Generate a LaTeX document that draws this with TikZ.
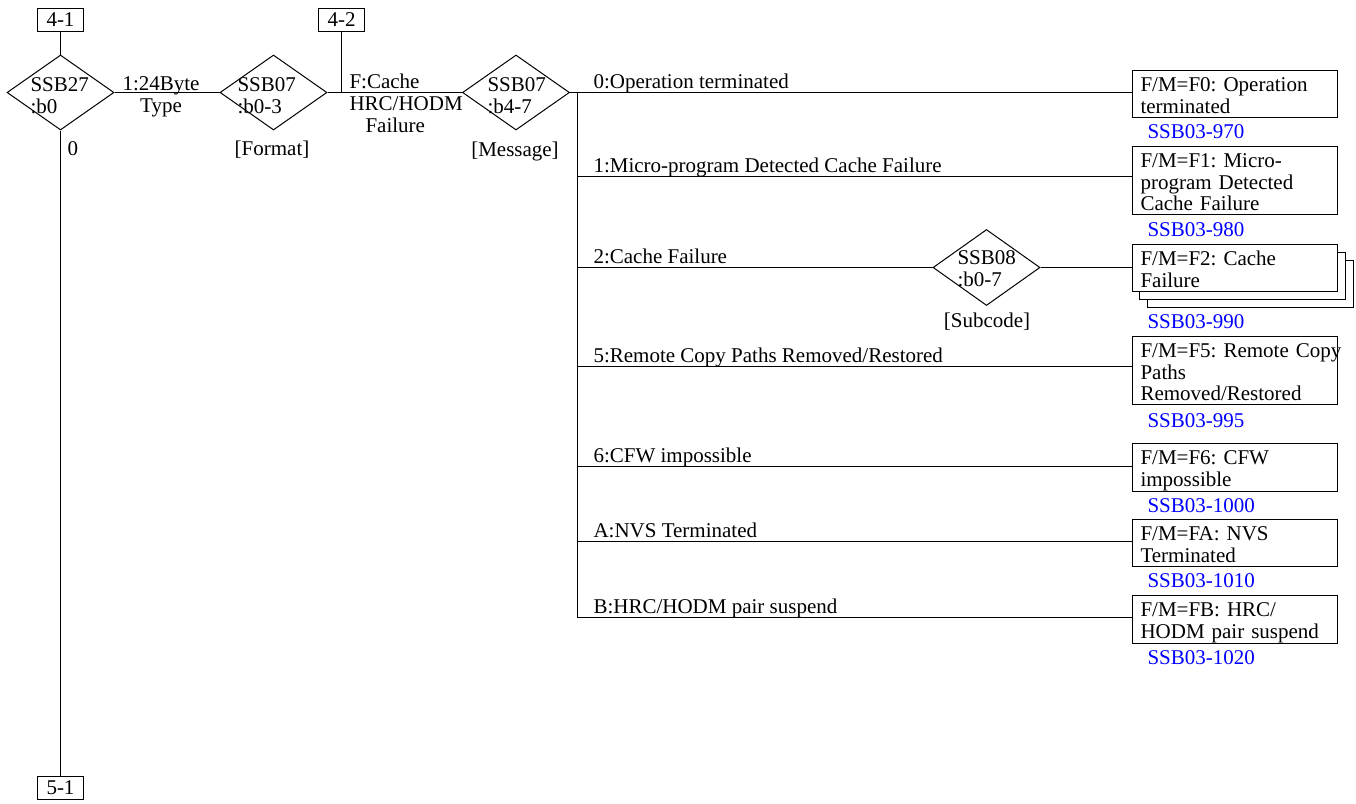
\documentclass[tikz,border=0pt]{standalone}
\usepackage{fontspec}
\setmainfont{Liberation Serif}
\usetikzlibrary{shapes.geometric,backgrounds,calc}
\definecolor{refblue}{RGB}{0,0,255}
\newcommand\fmtopstrut{\rule{0pt}{20pt}}
\newcommand\fmbotstrut{\rule[-3pt]{0pt}{3pt}}
\newcommand\dtopstrut{\rule{0pt}{15pt}}
\begin{document}
\begin{tikzpicture}[x=1pt,y=-1pt,
  every node/.style={font=\fontsize{21}{21.5}\selectfont\frenchspacing},
  line width=1pt,
  refbox/.style={draw,minimum width=46pt,minimum height=23pt,inner sep=0pt},
  dia/.style={draw,diamond,minimum width=107pt,minimum height=75pt,inner sep=0pt},
  dtext/.style={align=left,anchor=north west,inner sep=0pt},
  ctext/.style={align=center,anchor=north,inner sep=0pt},
  blabel/.style={anchor=base west,inner sep=0pt},
  clabel/.style={anchor=base,inner sep=0pt},
  fm/.style={draw,fill=white,anchor=north west,text width=189pt,inner xsep=8pt,inner ysep=1pt,align=left},
  code/.style={anchor=base west,inner sep=0pt,text=refblue},
]
\useasboundingbox (0,0) rectangle (1356,803);

% reference boxes
\node[refbox] (b41) at (60.5,20) {4-1};
\node[refbox] (b42) at (341.5,20) {4-2};
\node[refbox] (b51) at (60.5,787.5) {5-1};

% diamonds
\node[dia] (d1) at (60.5,92.5) {};
\node[dia] (d2) at (273.5,92.5) {};
\node[dia] (d3) at (516,92.5) {};
\node[dia,minimum height=76pt] (d4) at (986.5,267.5) {};
\node[dtext] (d1t) at (30,76) {\dtopstrut SSB27\\:b0};
\node[dtext] (d2t) at (237,76) {\dtopstrut SSB07\\:b0-3};
\node[dtext] (d3t) at (487,76) {\dtopstrut SSB07\\:b4-7};
\node[dtext] (d4t) at (957,249) {\dtopstrut SSB08\\:b0-7};

% diamond captions
\node[clabel] (fmt) at (272,155) {[Format]};
\node[clabel] (msg) at (515,156) {[Message]};
\node[clabel] (sub) at (987,327) {[Subcode]};

% edge labels
\node[ctext] (e1) at (161,75) {\dtopstrut 1:24Byte\\Type};
\node[dtext,font=\fontsize{21}{22}\selectfont] (e2) at (349,73) {\dtopstrut F:Cache\\HRC/HODM\\\hspace*{16pt}Failure};
\node[blabel] (e0) at (67,155) {0};

% result boxes
\node[fm] (f0) at (1132,70) {\fmtopstrut F/M=F0: Operation\\terminated\fmbotstrut};
\node[fm] (f1) at (1132,146) {\fmtopstrut F/M=F1: Micro-\\program Detected\\Cache Failure\fmbotstrut};
\node[fm] (f2) at (1132,244) {\fmtopstrut F/M=F2: Cache\\Failure\fmbotstrut};
\node[fm] (f5) at (1132,336) {\fmtopstrut \mbox{F/M=F5: Remote Copy}\\Paths\\Removed/Restored\fmbotstrut};
\node[fm] (f6) at (1132,443) {\fmtopstrut F/M=F6: CFW\\impossible\fmbotstrut};
\node[fm] (fa) at (1132,519) {\fmtopstrut F/M=FA: NVS\\Terminated\fmbotstrut};
\node[fm] (fb) at (1132,595) {\fmtopstrut F/M=FB: HRC/\\HODM pair suspend\fmbotstrut};

\begin{scope}[on background layer]
  \draw[fill=white] ($(f2.north west)+(15,16)$) rectangle ($(f2.south east)+(15,16)$);
  \draw[fill=white] ($(f2.north west)+(7.5,8)$) rectangle ($(f2.south east)+(7.5,8)$);
\end{scope}

% codes
\node[code] (s0) at ($(f0.south west)+(15,21)$) {SSB03-970};
\node[code] (s1) at ($(f1.south west)+(15,21)$) {SSB03-980};
\node[code] (s2) at ($(f2.south west)+(15,37)$) {SSB03-990};
\node[code] (s5) at ($(f5.south west)+(15,22)$) {SSB03-995};
\node[code] (s6) at ($(f6.south west)+(15,21)$) {SSB03-1000};
\node[code] (sa) at ($(fa.south west)+(15,21)$) {SSB03-1010};
\node[code] (sb) at ($(fb.south west)+(15,21)$) {SSB03-1020};

% bus coordinates
\coordinate (c0) at (577,92.5);
\coordinate (c1) at (577,176);
\coordinate (c2) at (577,267.5);
\coordinate (c5) at (577,366);
\coordinate (c6) at (577,466);
\coordinate (ca) at (577,541);
\coordinate (cb) at (577,617);

% branch labels
\node[blabel] (l0) at (593,88) {0:Operation terminated};
\node[blabel] (l1) at (593,172) {1:Micro-program Detected Cache Failure};
\node[blabel] (l2) at (593,263) {2:Cache Failure};
\node[blabel] (l5) at (593,362) {5:Remote Copy Paths Removed/Restored};
\node[blabel] (l6) at (593,462) {6:CFW impossible};
\node[blabel] (la) at (593,537) {A:NVS Terminated};
\node[blabel] (lb) at (593,613) {B:HRC/HODM pair suspend};

% connectors
\draw (b41.south) -- (d1.north);
\draw (d1.south) -- (b51.north);
\draw (d1.east) -- (d2.west);
\draw (d2.east) -- (d3.west);
\draw (b42.south) -- (b42.south |- d2.east);
\draw (d3.east) -- (d3.east -| f0.west);
\draw (c0) -- (cb);
\draw (c1) -- (c1 -| f1.west);
\draw (c2) -- (d4.west);
\draw (d4.east) -- (d4.east -| f2.west);
\draw (c5) -- (c5 -| f5.west);
\draw (c6) -- (c6 -| f6.west);
\draw (ca) -- (ca -| fa.west);
\draw (cb) -- (cb -| fb.west);
\end{tikzpicture}
\end{document}
